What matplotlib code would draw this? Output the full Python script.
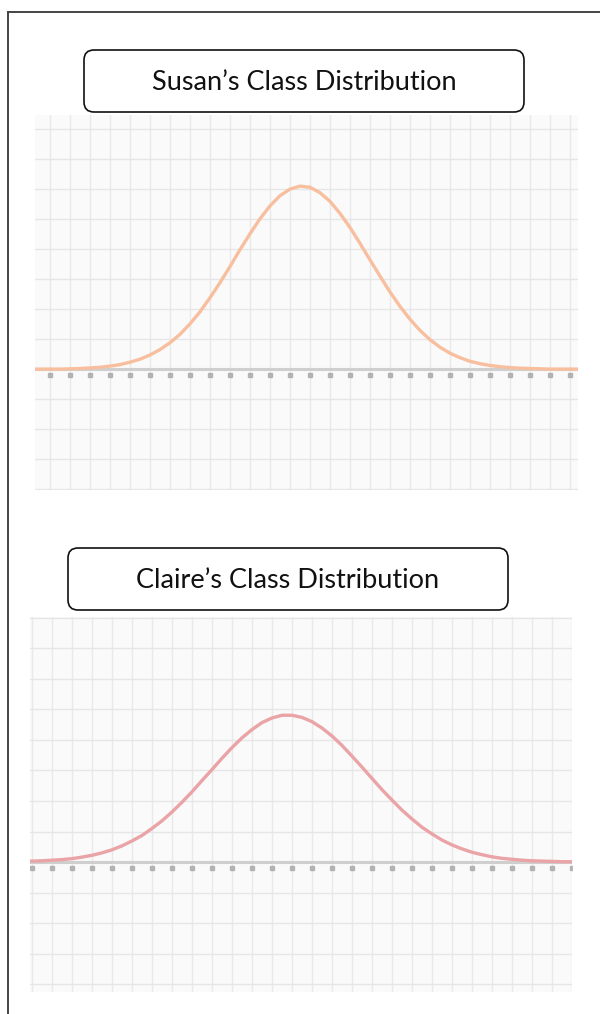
import numpy as np
import matplotlib.pyplot as plt
from matplotlib.patches import FancyBboxPatch
from matplotlib.lines import Line2D

# curve heights (grid units), x in tick steps of 0.5
susan_x = np.arange(-1, 27.5, 0.5)
susan_y = [0.00, 0.00, 0.00, 0.00, 0.01, 0.02, 0.04, 0.06, 0.10, 0.15,
           0.23, 0.33, 0.47, 0.65, 0.88, 1.16, 1.51, 1.91, 2.38, 2.88,
           3.42, 3.98, 4.51, 5.01, 5.44, 5.78, 6.00, 6.10, 6.06, 5.88,
           5.59, 5.19, 4.72, 4.19, 3.64, 3.10, 2.57, 2.09, 1.66, 1.29,
           0.98, 0.73, 0.53, 0.38, 0.26, 0.18, 0.12, 0.08, 0.05, 0.03,
           0.02, 0.01, 0.00, 0.00, 0.00, 0.00, 0.00]

claire_x = np.arange(-0.5, 28.0, 0.5)
claire_y = [0.02, 0.03, 0.04, 0.06, 0.08, 0.11, 0.16, 0.22, 0.30, 0.40,
            0.53, 0.69, 0.87, 1.10, 1.35, 1.64, 1.96, 2.30, 2.67, 3.03,
            3.40, 3.75, 4.07, 4.34, 4.57, 4.72, 4.81, 4.81, 4.74, 4.60,
            4.39, 4.13, 3.82, 3.47, 3.11, 2.74, 2.37, 2.03, 1.70, 1.41,
            1.14, 0.92, 0.72, 0.56, 0.43, 0.32, 0.24, 0.17, 0.12, 0.09,
            0.06, 0.04, 0.03, 0.02, 0.01, 0.01, 0.01]

titles = ["Susan\u2019s Class Distribution", "Claire\u2019s Class Distribution"]
colors = ["#f8bf9f", "#eaa3a6"]

fig = plt.figure(figsize=(6, 10.14), dpi=100)

# page frame (top and left edge of the screenshot)
fig.add_artist(Line2D([8 / 600, 1], [1 - 12 / 1014] * 2, transform=fig.transFigure,
                      color="#444444", lw=1.4))
fig.add_artist(Line2D([8 / 600] * 2, [0, 1 - 12 / 1014], transform=fig.transFigure,
                      color="#444444", lw=1.4))


def draw_panel(rect, xs, ys, xlim, ylim, color, ticks):
    ax = fig.add_axes(rect)
    ax.set_facecolor("#fafafa")
    ax.set_xlim(*xlim)
    ax.set_ylim(*ylim)
    for t in np.arange(np.ceil(xlim[0]), xlim[1] + 0.01, 1):
        ax.axvline(t, color="#e9e9e9", lw=1.0, zorder=0)
    for v in np.arange(np.ceil(ylim[0]), ylim[1] + 0.01, 1):
        ax.axhline(v, color="#e6e6e6", lw=1.0, zorder=0)
    ax.axhline(0, color="#cfcfcf", lw=2.2, zorder=1)
    ax.plot(ticks, [-0.2] * len(ticks), "s", ms=2.6, color="#a0a0a0", alpha=0.7, zorder=1)
    ax.plot(xs, ys, color=color, lw=2.4, zorder=2, solid_capstyle="round")
    for s in ax.spines.values():
        s.set_visible(False)
    ax.set_xticks([])
    ax.set_yticks([])
    return ax


draw_panel([35 / 600, 1 - 490 / 1014, 543 / 600, 375 / 1014], susan_x, susan_y,
           (-0.75, 26.4), (-4.03, 8.47), colors[0], list(range(0, 27)))
draw_panel([30 / 600, 1 - 992 / 1014, 542 / 600, 375 / 1014], claire_x, claire_y,
           (-0.1, 27.0), (-4.26, 8.03), colors[1], list(range(0, 28)))

# rounded title boxes
for (x0, y0, title) in [(0.84, 1.12, titles[0]), (0.68, 6.10, titles[1])]:
    yb = 10.14 - y0
    box = FancyBboxPatch((x0, yb), 4.40, 0.62, boxstyle="round,pad=0,rounding_size=0.1",
                         transform=fig.dpi_scale_trans, facecolor="white",
                         edgecolor="#111111", lw=1.2)
    fig.add_artist(box)
    fig.text(x0 + 2.20, yb + 0.30, title, transform=fig.dpi_scale_trans,
             ha="center", va="center", fontsize=19.5, family="Lato", color="#111111")

fig.savefig("out.png", dpi=100)
